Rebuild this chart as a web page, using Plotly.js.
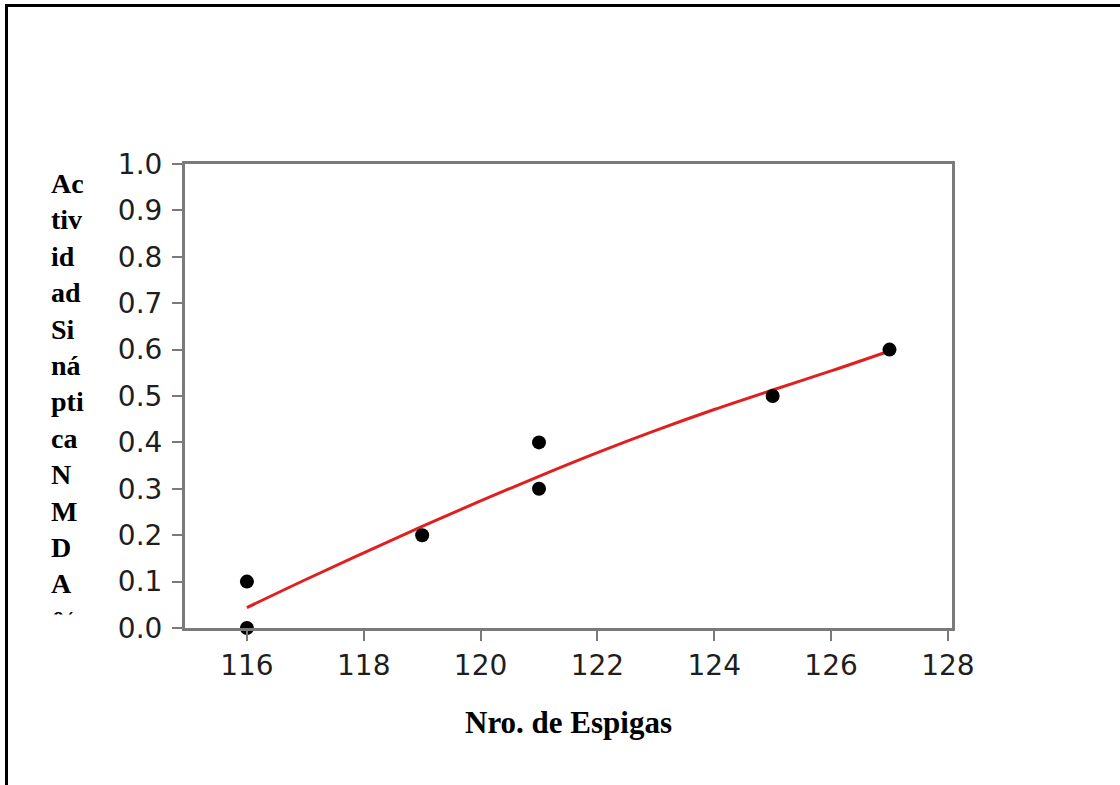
<!DOCTYPE html>
<html>
<head>
<meta charset="utf-8">
<script src="https://cdn.plot.ly/plotly-3.0.1.min.js"></script>
<style>
  html, body { margin: 0; padding: 0; background: #fff; }
  #wrap { position: relative; width: 1120px; height: 785px; }
  #chart { width: 1120px; height: 785px; }
  #frame { position: absolute; left: 5px; top: 4px; right: -10px; bottom: -10px;
           border-top: 3px solid #000; border-left: 3px solid #000; pointer-events: none; }
</style>
</head>
<body>
<div id="wrap">
  <div id="chart"></div>
  <div id="frame"></div>
</div>
<script>
// observed data points
const espigas = [116, 116, 119, 121, 121, 125, 127];
const actividad = [0.1, 0.0, 0.2, 0.4, 0.3, 0.5, 0.6];

// fitted curve
const fitX = [116, 117, 118, 119, 120, 121, 122, 123, 124, 125, 126, 127];
const fitY = [0.044, 0.104, 0.162, 0.219, 0.274, 0.327, 0.378, 0.426, 0.471, 0.513, 0.554, 0.597];

const xTicks = [116, 118, 120, 122, 124, 126, 128];
const yTicks = [0.0, 0.1, 0.2, 0.3, 0.4, 0.5, 0.6, 0.7, 0.8, 0.9, 1.0];

const xTitle = 'Nro. de Espigas';
const yTitleLines = ['Ac', 'tiv', 'id', 'ad', 'Si', 'ná', 'pti', 'ca', 'N', 'M', 'D', 'A', '%'];

const L = 185, R = 952, T = 164, B = 628, W = 1120, H = 785;
const px = x => (x - L) / (R - L);
const py = y => (B - y) / (B - T);

const axisCommon = {
  showline: true, mirror: true, linecolor: '#7a7a7a', linewidth: 3,
  ticks: 'outside', ticklen: 10, tickwidth: 2, tickcolor: '#7a7a7a',
  showgrid: false, zeroline: false,
  tickfont: { family: 'DejaVu Sans, Verdana, sans-serif', size: 28, color: '#1e1e1e' }
};

const traces = [
  {
    x: fitX, y: fitY, mode: 'lines', type: 'scatter',
    line: { color: '#e02020', width: 3, shape: 'spline', smoothing: 1 },
    hoverinfo: 'skip', showlegend: false
  },
  {
    x: espigas, y: actividad, mode: 'markers', type: 'scatter',
    marker: { color: '#000', size: 14 },
    cliponaxis: false, showlegend: false
  }
];

const layout = {
  width: W, height: H,
  margin: { l: L, r: W - R, t: T, b: H - B, pad: 0 },
  paper_bgcolor: '#fff', plot_bgcolor: '#fff',
  showlegend: false,
  xaxis: Object.assign({}, axisCommon, {
    range: [114.94, 128.07], tickvals: xTicks, ticktext: xTicks.map(String),
    title: { text: '<b>' + xTitle + '</b>', standoff: 31,
             font: { family: 'Liberation Serif, Times New Roman, serif', size: 31, color: '#000' } }
  }),
  yaxis: Object.assign({}, axisCommon, {
    range: [0, 1], tickvals: yTicks, ticktext: yTicks.map(v => v.toFixed(1)),
    ticklabelstandoff: 4
  }),
  annotations: [
    {
      xref: 'paper', yref: 'paper', x: px(68), y: py(166), xanchor: 'center', yanchor: 'top',
      showarrow: false, align: 'left',
      text: yTitleLines.map(s => '<b>' + s + '</b>').join('<br>'),
      font: { family: 'Liberation Serif, Times New Roman, serif', size: 28, color: '#000' }
    },
    {
      xref: 'paper', yref: 'paper', x: px(68), y: py(614), xanchor: 'center', yanchor: 'top',
      showarrow: false, text: ' ', bgcolor: '#fff', width: 70, height: 40, borderpad: 0
    }
  ]
};

Plotly.newPlot('chart', traces, layout, { displayModeBar: false, staticPlot: true });
</script>
</body>
</html>
